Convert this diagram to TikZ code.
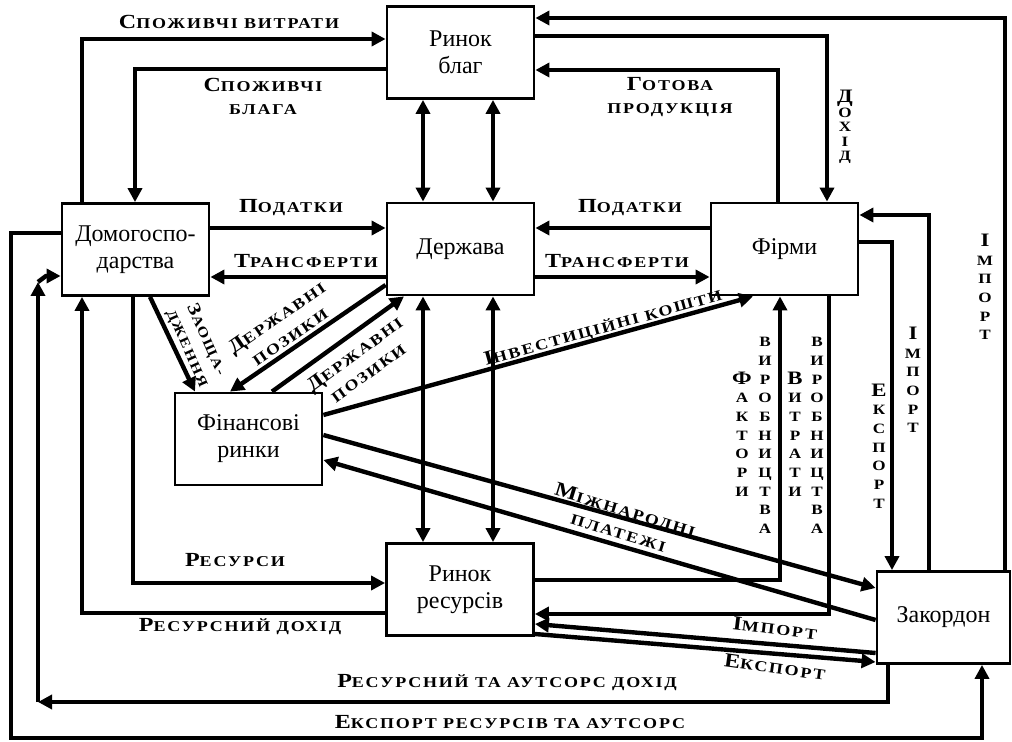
\documentclass[tikz,border=0pt]{standalone}
\usepackage{fontspec}
\setmainfont{Liberation Serif}
\newfontfamily\lblfont{Liberation Serif}[FakeStretch=1.2,LetterSpace=12]
\newfontfamily\lblscfont{Liberation Serif}[Scale=0.75,FakeStretch=1.2,LetterSpace=12]
\newcommand\sm[1]{{\lblscfont\bfseries #1}}
\usetikzlibrary{arrows.meta}

\begin{document}
\begin{tikzpicture}[x=0.5pt,y=-0.5pt]
    \tikzstyle{block}=[draw,line width=1.4pt,minimum width=73.5pt,minimum height=46pt,inner sep=0pt,align=center,font=\fontsize{12pt}{13.5pt}\selectfont]
    \tikzstyle{flow}=[line width=2.2pt,-{Triangle[length=7pt,width=7pt]}]
    \tikzstyle{dflow}=[flow,{Triangle[length=7pt,width=7pt]}-{Triangle[length=7pt,width=7pt]}]
    \tikzstyle{lbl}=[inner sep=0pt,align=center,font=\lblfont\bfseries\fontsize{10pt}{11.5pt}\selectfont]
    \tikzstyle{vlbl}=[lbl,font=\lblfont\bfseries\fontsize{9.5pt}{9.35pt}\selectfont]
    \useasboundingbox (0,0) rectangle (1012,742);

    % Draw the sectors and markets
    \node[block] (blag) at (460.5,52.5) {Ринок\\благ};
    \node[block] (derzh) at (460.5,249) {Держава};
    \node[block] (dom) at (135.5,249.5) {Домогоспо-\\дарства};
    \node[block] (firm) at (784.5,249) {Фірми};
    \node[block] (fin) at (248.5,439) {Фінансові\\ринки};
    \node[block] (rres) at (460,589.5) {Ринок\\ресурсів};
    \node[block,minimum width=66.5pt] (zak) at (943.5,617.5) {Закордон};

    % Goods market
    \draw[flow] (82,0 |- dom.north) |- (blag.west |- 0,39);
    \node[lbl] (lspv) at (229,22) {С\sm{ПОЖИВЧІ ВИТРАТИ}};
    \draw[flow] (blag.west |- 0,69) -| (135,0 |- dom.north);
    \node[lbl] (lspb) at (263,96) {С\sm{ПОЖИВЧІ}\\\sm{БЛАГА}};
    \draw[flow] (778,0 |- firm.north) |- (blag.east |- 0,70);
    \node[lbl] (lgot) at (670,97) {Г\sm{ОТОВА}\\\sm{ПРОДУКЦІЯ}};
    \draw[flow] (blag.east |- 0,36) -| (827,0 |- firm.north);
    \node[vlbl,font=\lblfont\bfseries\fontsize{9.5pt}{7.2pt}\selectfont] (ldoh) at (845,127) {Д\\\sm{О}\\\sm{Х}\\\sm{І}\\\sm{Д}};
    \draw[flow] (1005,0 |- zak.north) |- (blag.east |- 0,18);
    \node[vlbl] (limp1) at (985,287) {І\\\sm{М}\\\sm{П}\\\sm{О}\\\sm{Р}\\\sm{Т}};

    % Government with both markets
    \foreach \x in {423,493} {
        \draw[dflow] (\x,0 |- blag.south) -- (\x,0 |- derzh.north);
        \draw[dflow] (\x,0 |- derzh.south) -- (\x,0 |- rres.north);
    }

    % Taxes and transfers
    \draw[flow] (dom.east |- 0,228) -- (derzh.west |- 0,228);
    \node[lbl] (lpod1) at (291,208) {П\sm{ОДАТКИ}};
    \draw[flow] (derzh.west |- 0,277) -- (dom.east |- 0,277);
    \node[lbl] (ltr1) at (306,261) {Т\sm{РАНСФЕРТИ}};
    \draw[flow] (firm.west |- 0,228) -- (derzh.east |- 0,228);
    \node[lbl] (lpod2) at (630,208) {П\sm{ОДАТКИ}};
    \draw[flow] (derzh.east |- 0,277) -- (firm.west |- 0,277);
    \node[lbl] (ltr2) at (617,261) {Т\sm{РАНСФЕРТИ}};

    % Financial markets
    \draw[flow] (150,0 |- dom.south) -- (195,0 |- fin.north);
    \node[lbl,rotate=-66,font=\lblfont\bfseries\fontsize{9pt}{10.5pt}\selectfont] (lzao) at (197,344) {З\sm{АОЩА-}\\\sm{ДЖЕННЯ}};
    \draw[flow] (derzh.west |- 0,285) -- (230,0 |- fin.north);
    \node[lbl,rotate=34.5] (ldp1) at (283,327) {Д\sm{ЕРЖАВНІ}\\\sm{ПОЗИКИ}};
    \draw[flow] (272,0 |- fin.north) -- (404,0 |- derzh.south);
    \node[lbl,rotate=36] (ldp2) at (361,363) {Д\sm{ЕРЖАВНІ}\\\sm{ПОЗИКИ}};
    \draw[flow] (fin.east |- 0,415) -- (753,0 |- firm.south);
    \node[lbl,rotate=15.6] (linv) at (603,328) {І\sm{НВЕСТИЦІЙНІ КОШТИ}};
    \draw[flow] (fin.east |- 0,435) -- (zak.west |- 0,588);
    \draw[flow] (zak.west |- 0,620) -- (fin.east |- 0,460);
    \node[lbl,rotate=-17] (lmzh) at (622,521) {М\sm{ІЖНАРОДНІ}\\\sm{ПЛАТЕЖІ}};

    % Resource market
    \draw[flow] (rres.west |- 0,613) -| (82,0 |- dom.south);
    \node[lbl] (lrd) at (240,627) {Р\sm{ЕСУРСНИЙ ДОХІД}};
    \draw[flow] (133,0 |- dom.south) |- (rres.west |- 0,583);
    \node[lbl] (lres) at (235,560) {Р\sm{ЕСУРСИ}};
    \draw[flow] (rres.east |- 0,580) -| (780,0 |- firm.south);
    \node[vlbl] (lfak) at (742,434) {Ф\\\sm{А}\\\sm{К}\\\sm{Т}\\\sm{О}\\\sm{Р}\\\sm{И}};
    \node[vlbl] (lvyr1) at (765,435.5) {\sm{В}\\\sm{И}\\\sm{Р}\\\sm{О}\\\sm{Б}\\\sm{Н}\\\sm{И}\\\sm{Ц}\\\sm{Т}\\\sm{В}\\\sm{А}};
    \draw[flow] (829,0 |- firm.south) |- (rres.east |- 0,614);
    \node[vlbl] (lvyt) at (795,434) {В\\\sm{И}\\\sm{Т}\\\sm{Р}\\\sm{А}\\\sm{Т}\\\sm{И}};
    \node[vlbl] (lvyr2) at (817,435.5) {\sm{В}\\\sm{И}\\\sm{Р}\\\sm{О}\\\sm{Б}\\\sm{Н}\\\sm{И}\\\sm{Ц}\\\sm{Т}\\\sm{В}\\\sm{А}};

    % Foreign sector
    \draw[flow] (firm.east |- 0,242) -| (892,0 |- zak.north);
    \node[vlbl] (lexp1) at (879,446) {Е\\\sm{К}\\\sm{С}\\\sm{П}\\\sm{О}\\\sm{Р}\\\sm{Т}};
    \draw[flow] (929,0 |- zak.north) |- (firm.east |- 0,215);
    \node[vlbl] (limp2) at (913,380) {І\\\sm{М}\\\sm{П}\\\sm{О}\\\sm{Р}\\\sm{Т}};
    \draw[flow] (zak.west |- 0,653) -- (rres.east |- 0,624);
    \node[lbl,rotate=-7] (limp3) at (775,628) {І\sm{МПОРТ}};
    \draw[flow] (rres.east |- 0,634) -- (zak.west |- 0,662);
    \node[lbl,rotate=-8] (lexp2) at (775,667) {Е\sm{КСПОРТ}};

    % Outer loops
    \coordinate (rsd) at (38,702);
    \coordinate (rsu) at (38,282);
    \coordinate (rsk) at (46,276);
    \draw[flow] (888,0 |- zak.south) |- (rsd);
    \draw[flow] (rsd) -- (rsu);
    \draw[flow] (rsu) -- (rsk) -- (dom.west |- rsk);
    \node[lbl] (lrad) at (507,683) {Р\sm{ЕСУРСНИЙ ТА АУТСОРС ДОХІД}};
    \draw[flow] (dom.west |- 0,233) -| (11,738) -| (982,0 |- zak.south);
    \node[lbl] (lexr) at (510,722) {Е\sm{КСПОРТ РЕСУРСІВ ТА АУТСОРС}};
\end{tikzpicture}
\end{document}
